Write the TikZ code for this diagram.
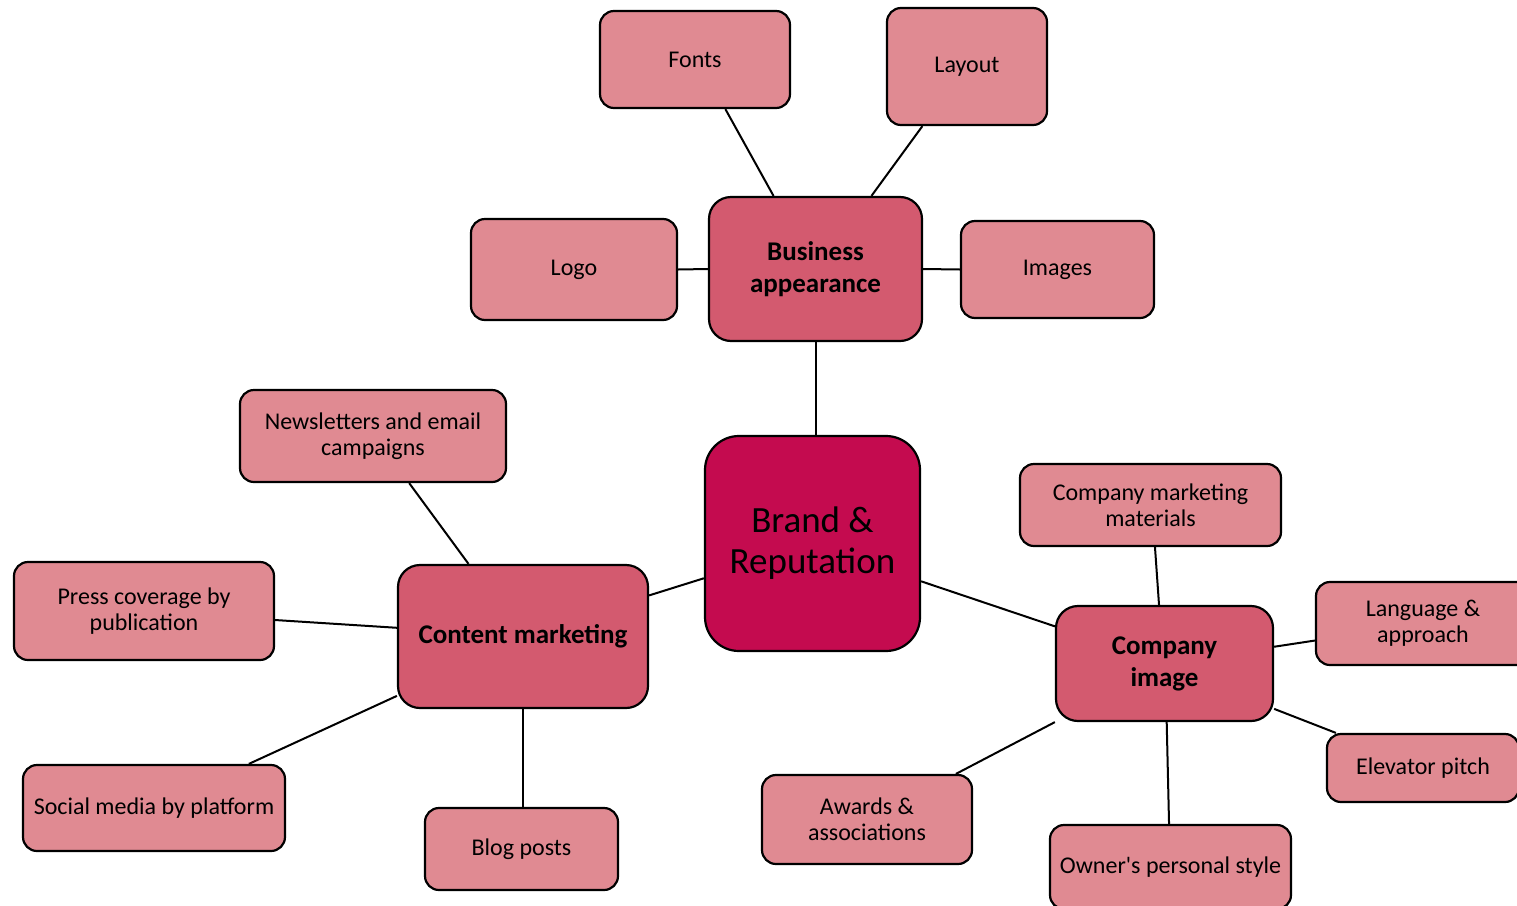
\documentclass[tikz,border=0pt]{standalone}
\usepackage{fontspec}
\setmainfont{Carlito}
\usetikzlibrary{calc}
\definecolor{cCenter}{RGB}{196,11,79}
\definecolor{cMid}{RGB}{211,90,111}
\definecolor{cLight}{RGB}{224,138,146}
\tikzset{
  box/.style={draw=black, line width=2.2pt, rounded corners=14pt, fill=cLight, align=center, inner sep=0pt,
    font=\fontsize{24}{26}\selectfont},
  midbox/.style={box, fill=cMid, rounded corners=22pt, font=\bfseries\fontsize{27}{32}\selectfont},
  centerbox/.style={box, fill=cCenter, rounded corners=34pt, font=\fontsize{37}{41}\selectfont},
  link/.style={draw=black, line width=2pt}
}
\begin{document}
\begin{tikzpicture}[x=1pt,y=-1pt]
\useasboundingbox (0,0) rectangle (1517,905);
\clip (0,0) rectangle (1517,905);
\node[box, minimum width=190pt, minimum height=97pt] (fonts) at (695,59.5) {Fonts};
\node[box, minimum width=160pt, minimum height=117pt] (layout) at (967,66.5) {Layout};
\node[box, minimum width=206pt, minimum height=101pt] (logo) at (574,269.5) {Logo};
\node[midbox, minimum width=213pt, minimum height=144pt] (ba) at (815.5,269) {Business\\appearance};
\node[box, minimum width=193pt, minimum height=97pt] (images) at (1057.5,269.5) {Images};
\node[box, minimum width=266pt, minimum height=92pt] (news) at (373,436) {Newsletters and email\\campaigns};
\node[centerbox, minimum width=215pt, minimum height=215pt] (brand) at (812.5,543.5) {Brand \&\\Reputation};
\node[box, minimum width=261pt, minimum height=82pt] (cmm) at (1150.5,505) {Company marketing\\materials};
\node[box, minimum width=260pt, minimum height=98pt] (press) at (144,611) {Press coverage by\\publication};
\node[midbox, minimum width=250pt, minimum height=143pt] (content) at (523,636.5) {Content marketing};
\node[box, minimum width=214pt, minimum height=83pt] (lang) at (1423,623.5) {Language \&\\approach};
\node[midbox, minimum width=217pt, minimum height=115pt] (ci) at (1164.5,663.5) {Company\\image};
\node[box, minimum width=192pt, minimum height=68pt] (elev) at (1423,768) {Elevator pitch};
\node[box, minimum width=262pt, minimum height=86pt] (social) at (154,808) {Social media by platform};
\node[box, minimum width=193pt, minimum height=82pt] (blog) at (521.5,849) {Blog posts};
\node[box, minimum width=210pt, minimum height=89pt] (awards) at (867,819.5) {Awards \&\\associations};
\node[box, minimum width=241pt, minimum height=84pt] (owner) at (1170.5,867) {Owner\textquotesingle s personal style};
% connectors
\draw[link] ($(fonts.south west)!0.658!(fonts.south east)$) -- ($(ba.north west)!0.305!(ba.north east)$);
\draw[link] ($(layout.south west)!0.225!(layout.south east)$) -- ($(ba.north west)!0.76!(ba.north east)$);
\draw[link] (logo.east) -- (ba.west);
\draw[link] (ba.east) -- (images.west);
\draw[link] (ba.south) -- (ba.south |- brand.north);
\draw[link] ($(brand.north west)!0.66!(brand.south west)$) -- ($(content.north east)!0.217!(content.south east)$);
\draw[link] ($(brand.north east)!0.674!(brand.south east)$) -- ($(ci.north west)!0.183!(ci.south west)$);
\draw[link] ($(news.south west)!0.635!(news.south east)$) -- ($(content.north west)!0.284!(content.north east)$);
\draw[link] ($(press.north east)!0.59!(press.south east)$) -- ($(content.north west)!0.44!(content.south west)$);
\draw[link] ($(social.north west)!0.859!(social.north east)$) -- ($(content.north west)!0.909!(content.south west)$);
\draw[link] (content.south) -- (content.south |- blog.north);
\draw[link] ($(cmm.south west)!0.517!(cmm.south east)$) -- ($(ci.north west)!0.475!(ci.north east)$);
\draw[link] ($(ci.north east)!0.357!(ci.south east)$) -- ($(lang.north west)!0.70!(lang.south west)$);
\draw[link] ($(ci.north east)!0.887!(ci.south east)$) -- ($(elev.north west)+(10,0)$);
\draw[link] ($(awards.north west)!0.919!(awards.north east)$) -- (ci.south west);
\draw[link] ($(ci.south west)!0.51!(ci.south east)$) -- ($(owner.north west)!0.494!(owner.north east)$);
\end{tikzpicture}
\end{document}
